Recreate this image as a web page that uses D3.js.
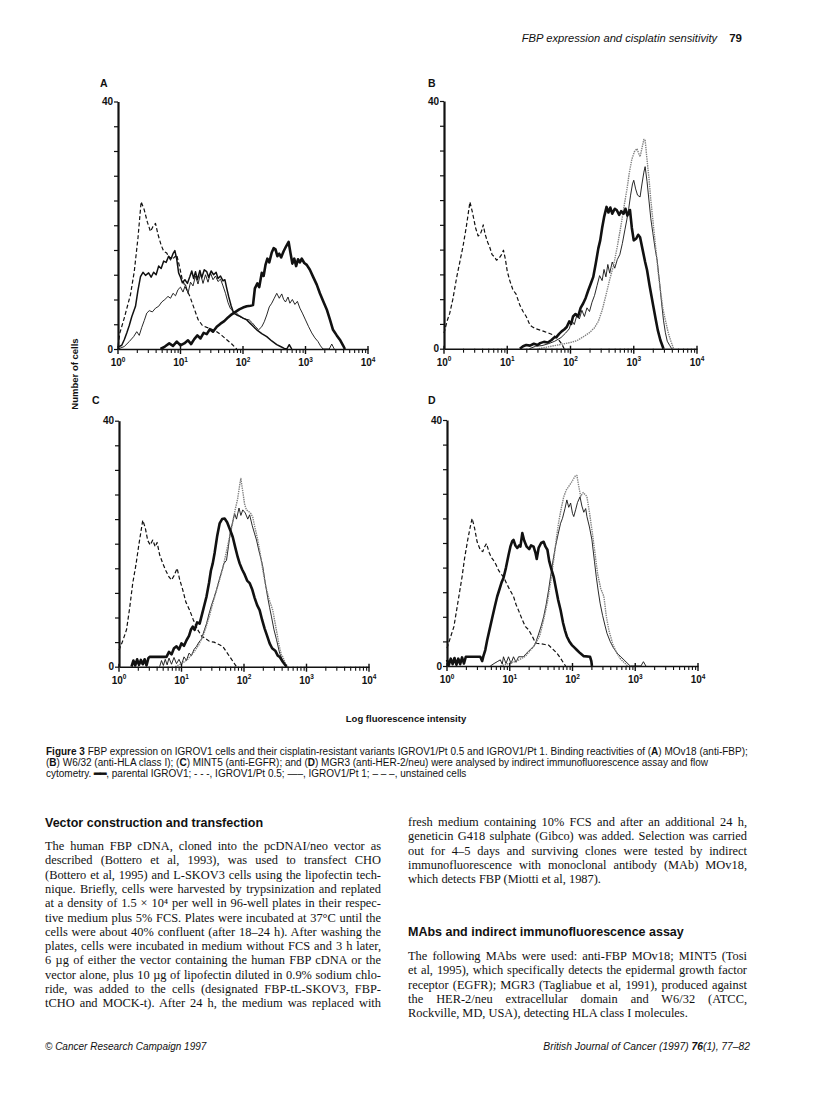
<!DOCTYPE html>
<html>
<head>
<meta charset="utf-8">
<script src="https://cdn.jsdelivr.net/npm/d3@7"></script>
<style>
  body { margin: 0; background: #fff; }
  svg text { font-family: "Liberation Sans", Arial, sans-serif; fill: #111; }
  svg text.serif { font-family: "Liberation Serif", "Times New Roman", serif; }
</style>
</head>
<body>
<svg id="page" width="816" height="1114"></svg>
<script>
// ---- data: histograms, x = log10(fluorescence intensity), y = number of cells ----
const countTicks = d3.range(0, 41, 4);
const decadeTicks = [1, 10, 100, 1000, 10000];
const decadeLabels = ["0", "1", "2", "3", "4"];

// panel A: MOv18 (anti-FBP)
const aUnstained = [[0,0.5],[0.03,2.6],[0.1,5],[0.2,8.8],[0.26,12.5],[0.32,18],[0.37,23.8],[0.42,22.5],[0.47,20.5],[0.52,19],[0.56,19.8],[0.6,20.3],[0.64,18.5],[0.69,16.8],[0.73,15.8],[0.78,15.5],[0.84,14.4],[0.9,14.8],[0.94,15.2],[0.98,13.5],[1.03,11.2],[1.08,10],[1.15,8.5],[1.22,6.5],[1.28,4.8],[1.35,3.8],[1.42,3.5],[1.5,3.2],[1.58,2.8],[1.66,2.2],[1.74,1.5],[1.82,0.8],[1.9,0]];
const aParental = [[0.68,0],[0.75,0.4],[0.82,0.9],[0.88,0.5],[0.94,1.2],[1.0,0.6],[1.06,0.9],[1.12,1.4],[1.17,0.8],[1.22,1.6],[1.27,2.2],[1.32,1.7],[1.37,2.6],[1.42,2.4],[1.47,3.2],[1.52,2.8],[1.58,3.6],[1.64,4.1],[1.7,4.5],[1.76,5.1],[1.82,5.6],[1.88,6.0],[1.94,6.4],[2.0,6.7],[2.06,6.9],[2.12,7.0],[2.16,7.1],[2.19,9.8],[2.23,10.6],[2.26,10.0],[2.3,12.3],[2.33,11.8],[2.36,13.6],[2.39,14.6],[2.42,14.0],[2.46,15.6],[2.49,16.3],[2.52,16.1],[2.55,15.0],[2.58,15.4],[2.61,14.8],[2.65,15.8],[2.69,16.6],[2.73,17.3],[2.76,15.5],[2.79,13.8],[2.82,14.6],[2.85,13.4],[2.88,14.5],[2.91,14.0],[2.94,14.6],[2.98,13.9],[3.02,13.6],[3.07,12.8],[3.12,11.7],[3.18,10.4],[3.23,9.0],[3.28,7.8],[3.34,6.4],[3.39,4.8],[3.44,3.1],[3.5,2.2],[3.55,1.5],[3.6,0.6],[3.63,0]];
const aPt05 = [[0,0.3],[0.06,0.6],[0.1,1.5],[0.14,2.6],[0.18,3.8],[0.22,5.2],[0.28,6.9],[0.32,9.5],[0.36,11.7],[0.4,12.4],[0.44,11.9],[0.49,12.3],[0.53,11.6],[0.57,12.4],[0.61,12.0],[0.65,13.4],[0.69,13.0],[0.73,14.2],[0.77,14.0],[0.81,15.0],[0.85,14.6],[0.88,15.4],[0.91,15.9],[0.94,14.5],[0.97,12.3],[1.0,11.6],[1.03,10.7],[1.07,11.2],[1.11,10.6],[1.15,11.7],[1.18,12.6],[1.21,11.4],[1.24,12.5],[1.27,11.2],[1.31,12.7],[1.34,11.5],[1.38,12.8],[1.42,12.5],[1.45,11.6],[1.49,12.6],[1.53,12.0],[1.57,12.4],[1.6,11.4],[1.64,11.8],[1.68,11.0],[1.71,11.2],[1.74,9.8],[1.77,8.5],[1.81,7.0],[1.85,5.8],[1.9,5.5],[1.95,5.3],[2.0,5.0],[2.06,4.7],[2.12,4.1],[2.17,3.6],[2.22,3.1],[2.3,2.5],[2.38,2.0],[2.46,1.3],[2.54,0.7],[2.6,0.4],[2.66,0.1],[2.7,0],[2.74,0.7],[2.78,0]];
const aPt1 = [[0,0],[0.1,0.4],[0.18,1.2],[0.25,2.0],[0.3,2.8],[0.34,2.2],[0.38,3.5],[0.42,4.6],[0.46,5.8],[0.5,6.2],[0.55,6.0],[0.6,6.6],[0.65,6.9],[0.7,7.6],[0.75,8.0],[0.8,8.5],[0.84,8.2],[0.88,9.0],[0.92,8.6],[0.96,9.6],[1.0,10.0],[1.04,9.2],[1.08,10.4],[1.12,9.0],[1.16,10.8],[1.2,10.2],[1.24,11.8],[1.28,10.5],[1.32,12.2],[1.36,10.6],[1.4,12.0],[1.44,10.8],[1.48,12.3],[1.52,11.2],[1.56,11.8],[1.6,10.9],[1.64,11.3],[1.68,10.2],[1.72,9.0],[1.76,7.5],[1.8,6.5],[1.85,6.0],[1.9,5.8],[1.95,5.2],[2.0,5.0],[2.05,4.8],[2.1,4.7],[2.15,4.2],[2.2,3.6],[2.25,3.1],[2.3,3.6],[2.34,4.4],[2.38,5.5],[2.42,6.8],[2.46,7.4],[2.5,8.2],[2.54,9.0],[2.58,8.2],[2.62,8.9],[2.65,8.0],[2.68,7.6],[2.72,8.4],[2.75,7.4],[2.79,8.0],[2.83,7.2],[2.87,7.7],[2.91,6.6],[2.95,5.8],[3.0,4.7],[3.05,3.6],[3.1,2.6],[3.15,1.8],[3.2,1.2],[3.24,0.5],[3.28,0],[3.38,0],[3.42,0.8],[3.46,0]];

// panel B: W6/32 (anti-HLA class I)
const bUnstained = [[0,2.5],[0.05,4.5],[0.09,5.7],[0.14,8],[0.2,11.5],[0.25,14],[0.3,16.5],[0.35,19.5],[0.41,23.7],[0.45,22.0],[0.5,19.5],[0.54,18.2],[0.57,18.4],[0.6,19.2],[0.62,20],[0.65,18.5],[0.69,17.2],[0.72,16.5],[0.76,15.2],[0.8,14.8],[0.83,14.3],[0.87,14.6],[0.91,15.2],[0.94,15.9],[0.97,14.5],[1.0,12.5],[1.04,11],[1.09,9.5],[1.14,8.8],[1.2,7],[1.25,6],[1.3,5.2],[1.36,3.8],[1.4,3.5],[1.46,3.2],[1.52,3.0],[1.58,2.8],[1.66,2.5],[1.73,2.2],[1.8,1.6],[1.86,0.8],[1.9,0]];
const bParental = [[1.2,0],[1.25,0.4],[1.3,0.6],[1.36,0.5],[1.42,0.8],[1.48,0.6],[1.52,0.9],[1.58,1.1],[1.64,1.0],[1.7,1.4],[1.74,1.8],[1.78,1.9],[1.82,2.4],[1.86,2.8],[1.9,3.1],[1.94,3.5],[1.98,4.4],[2.01,4.0],[2.04,5.2],[2.08,5.6],[2.12,5.2],[2.16,6.6],[2.2,7.3],[2.24,8.2],[2.28,9.4],[2.32,10.5],[2.36,11.6],[2.4,13.8],[2.44,16.2],[2.47,17.5],[2.5,19.5],[2.53,21.2],[2.57,22.9],[2.6,22.0],[2.63,22.8],[2.66,21.8],[2.7,22.6],[2.73,22.4],[2.77,21.6],[2.8,22.2],[2.84,21.8],[2.87,22.6],[2.9,21.5],[2.94,22.4],[2.97,19.5],[3.0,17.5],[3.04,17.8],[3.07,18.4],[3.1,18.0],[3.14,16.0],[3.18,14.0],[3.21,12.7],[3.25,10.2],[3.28,8.5],[3.31,6.8],[3.35,4.6],[3.38,3.0],[3.42,1.4],[3.47,0]];
const bPt05 = [[1.5,0],[1.6,0.2],[1.7,0.4],[1.8,0.6],[1.9,0.8],[2.0,1.0],[2.1,1.3],[2.2,1.9],[2.3,2.6],[2.38,3.4],[2.44,4.4],[2.5,6.2],[2.56,8.6],[2.62,11.2],[2.68,13.4],[2.74,16.5],[2.8,20.0],[2.85,23.2],[2.89,25.6],[2.93,28.4],[2.97,30.6],[3.01,31.8],[3.05,32.3],[3.08,31.5],[3.1,31.0],[3.13,32.4],[3.16,33.8],[3.18,33.7],[3.21,30.5],[3.24,27.6],[3.27,24.0],[3.31,20.0],[3.35,16.0],[3.39,12.0],[3.42,9.6],[3.46,6.5],[3.5,4.6],[3.54,2.8],[3.58,1.4],[3.63,0]];
const bPt1 = [[1.35,0],[1.45,0.4],[1.55,0.5],[1.65,0.8],[1.75,1.2],[1.85,1.8],[1.92,2.5],[1.98,3.2],[2.02,4.6],[2.06,3.9],[2.1,5.4],[2.14,4.8],[2.18,6.2],[2.22,5.2],[2.26,6.6],[2.3,6.0],[2.34,7.5],[2.38,8.6],[2.42,10.2],[2.46,11.8],[2.5,11.0],[2.53,12.8],[2.56,11.6],[2.59,13.6],[2.62,12.2],[2.66,14.0],[2.7,13.0],[2.74,14.4],[2.78,15.2],[2.82,17.0],[2.86,19.2],[2.89,20.8],[2.92,22.6],[2.95,24.8],[2.98,26.6],[3.0,27.2],[3.03,25.8],[3.06,24.8],[3.1,24.5],[3.13,26.6],[3.16,28.5],[3.18,29.4],[3.21,27.0],[3.24,24.0],[3.27,21.0],[3.3,18.8],[3.34,16.0],[3.37,14.3],[3.41,10.5],[3.44,7.4],[3.47,4.6],[3.5,2.6],[3.53,1.2],[3.57,0.5],[3.6,0]];

// panel C: MINT5 (anti-EGFR)
const cUnstained = [[0,2.7],[0.06,4.2],[0.12,6],[0.17,9.5],[0.22,13.6],[0.27,16.5],[0.32,20],[0.38,23.8],[0.42,22.6],[0.46,20.5],[0.5,19.8],[0.54,20.6],[0.58,19.5],[0.61,20.2],[0.65,18.2],[0.7,16.8],[0.75,15.6],[0.8,14.6],[0.84,14.1],[0.88,14.8],[0.93,16.0],[0.97,14.2],[1.02,12.5],[1.07,10.5],[1.13,9.2],[1.19,7.6],[1.26,6.0],[1.32,5.0],[1.38,4.6],[1.45,4.1],[1.52,4.0],[1.6,3.6],[1.66,3.3],[1.72,2.4],[1.78,1.5],[1.84,0.6],[1.88,0]];
const cParental = [[0.2,0],[0.23,1.0],[0.26,0.2],[0.29,1.2],[0.32,0.3],[0.35,1.1],[0.38,0.4],[0.41,1.2],[0.44,0.2],[0.47,1.4],[0.49,1.6],[0.6,1.6],[0.76,1.6],[0.8,2.4],[0.84,2.0],[0.88,3.0],[0.92,3.3],[0.96,2.8],[1.0,3.8],[1.04,3.4],[1.08,4.3],[1.12,5.0],[1.15,6.0],[1.18,6.5],[1.21,6.0],[1.25,7.2],[1.29,7.0],[1.33,8.6],[1.37,10.2],[1.4,11.4],[1.44,13.6],[1.47,15.6],[1.5,16.8],[1.53,18.5],[1.57,21.2],[1.61,23.3],[1.65,24.0],[1.69,24.1],[1.73,23.5],[1.78,22.2],[1.82,21.1],[1.86,19.4],[1.9,17.8],[1.93,16.8],[1.97,15.8],[2.01,15.0],[2.05,14.0],[2.09,13.6],[2.13,12.6],[2.17,11.2],[2.21,10.0],[2.25,9.2],[2.29,7.6],[2.33,6.2],[2.37,5.0],[2.41,3.8],[2.45,3.0],[2.5,2.6],[2.54,1.8],[2.57,1.6],[2.62,0.8],[2.68,0]];
const cPt05 = [[0.9,0],[1.0,0.5],[1.1,1.2],[1.2,2.4],[1.28,3.6],[1.36,5.4],[1.44,8.0],[1.52,11.0],[1.6,13.8],[1.66,16.0],[1.72,18.8],[1.78,21.6],[1.82,23.5],[1.86,25.6],[1.9,27.4],[1.93,29.5],[1.95,30.6],[1.98,28.5],[2.01,26.4],[2.04,25.5],[2.08,25.2],[2.11,24.9],[2.14,24.3],[2.18,22.4],[2.22,20.6],[2.25,19.0],[2.3,15.8],[2.35,13.0],[2.4,11.0],[2.46,9.2],[2.51,6.4],[2.56,3.6],[2.6,1.8],[2.62,1.6],[2.66,0.6],[2.7,0]];
const cPt1 = [[0.65,0],[0.68,1.0],[0.71,0.2],[0.74,1.2],[0.77,0.3],[0.8,1.4],[0.84,0.4],[0.88,1.5],[0.92,0.5],[0.96,1.2],[1.0,0.3],[1.04,1.6],[1.08,1.0],[1.12,2.2],[1.16,1.8],[1.2,2.8],[1.24,3.3],[1.28,4.0],[1.32,4.5],[1.36,5.8],[1.4,7.0],[1.44,8.6],[1.48,10.0],[1.52,11.2],[1.56,12.5],[1.6,14.0],[1.64,15.4],[1.68,16.8],[1.72,17.3],[1.75,19.5],[1.78,21.8],[1.82,23.6],[1.85,24.9],[1.88,24.0],[1.92,25.8],[1.95,24.6],[1.98,25.5],[2.02,25.0],[2.06,24.0],[2.09,24.7],[2.13,23.0],[2.17,21.6],[2.2,20.6],[2.24,18.8],[2.28,17.2],[2.3,16.3],[2.34,13.6],[2.38,11.2],[2.41,9.6],[2.44,8.1],[2.48,6.0],[2.52,4.4],[2.57,2.2],[2.62,1.0],[2.68,0]];

// panel D: MGR3 (anti-HER-2/neu)
const dUnstained = [[0,2.9],[0.05,4.5],[0.11,6.4],[0.16,9.5],[0.2,12],[0.24,14.5],[0.28,17.5],[0.33,20.5],[0.37,22.6],[0.4,24],[0.44,22.4],[0.48,20.2],[0.53,18.9],[0.57,18.6],[0.6,19.4],[0.63,19.9],[0.67,18.5],[0.71,17.6],[0.74,17.2],[0.78,16.5],[0.82,15.6],[0.86,15.0],[0.9,14.5],[0.95,13.4],[1.0,12.4],[1.06,11.3],[1.1,10.0],[1.15,8.8],[1.2,7.5],[1.25,6.4],[1.3,5.9],[1.35,5.0],[1.4,4.0],[1.43,3.7],[1.5,3.6],[1.56,3.5],[1.62,3.4],[1.68,2.8],[1.75,2.1],[1.8,1.4],[1.85,0.6],[1.89,0]];
const dParental = [[0,1.0],[0.03,0.2],[0.06,1.2],[0.09,0.3],[0.12,1.3],[0.15,0.2],[0.18,1.2],[0.21,0.3],[0.24,1.4],[0.27,0.4],[0.3,1.5],[0.35,1.5],[0.45,1.5],[0.53,1.5],[0.56,0.8],[0.58,1.6],[0.61,2.6],[0.64,4.2],[0.68,6.0],[0.72,7.8],[0.76,9.6],[0.8,11.3],[0.84,12.6],[0.87,13.6],[0.9,14.3],[0.94,16.0],[0.98,18.0],[1.01,19.4],[1.04,20.3],[1.06,20.5],[1.09,19.6],[1.12,19.2],[1.15,19.6],[1.17,19.4],[1.2,21.6],[1.23,20.4],[1.27,19.4],[1.31,19.0],[1.34,19.6],[1.38,19.4],[1.41,18.4],[1.43,17.4],[1.46,19.2],[1.5,20.0],[1.54,20.2],[1.57,19.4],[1.6,18.9],[1.63,17.0],[1.67,15.5],[1.7,14.5],[1.74,12.4],[1.77,10.8],[1.81,9.1],[1.85,7.0],[1.88,5.8],[1.91,4.8],[1.95,4.0],[1.99,3.4],[2.02,3.1],[2.07,2.6],[2.12,2.1],[2.18,1.6],[2.28,1.5],[2.3,0.8],[2.31,0]];
const dPt05 = [[0.85,0],[0.95,0.3],[1.05,0.6],[1.15,1.0],[1.25,1.6],[1.35,2.8],[1.42,3.8],[1.48,5.0],[1.54,7.5],[1.6,10.4],[1.65,13.5],[1.7,17.2],[1.74,20.5],[1.78,23.4],[1.82,25.6],[1.86,27.5],[1.9,28.6],[1.94,29.2],[1.98,29.8],[2.02,30.5],[2.05,31.0],[2.07,31.0],[2.1,29.2],[2.13,27.6],[2.17,28.2],[2.21,27.8],[2.23,27.5],[2.27,25.0],[2.31,22.1],[2.35,19.0],[2.4,15.0],[2.45,12.6],[2.5,11.3],[2.54,8.0],[2.58,5.8],[2.64,3.6],[2.7,2.2],[2.76,1.2],[2.82,0.6],[2.88,0]];
const dPt1 = [[0.69,0],[0.75,0.4],[0.8,0.7],[0.85,1.0],[0.88,0.3],[0.9,1.5],[0.94,0.4],[0.98,1.5],[1.02,0.4],[1.06,1.5],[1.1,0.6],[1.14,1.5],[1.22,1.5],[1.26,2.0],[1.3,2.4],[1.34,2.8],[1.38,3.1],[1.42,4.0],[1.46,5.2],[1.5,6.5],[1.54,8.0],[1.58,10.0],[1.62,12.4],[1.65,14.5],[1.69,17.2],[1.73,19.5],[1.77,21.4],[1.81,23.2],[1.84,24.0],[1.88,25.6],[1.91,27.0],[1.94,25.8],[1.97,26.5],[2.0,24.8],[2.02,24.3],[2.05,25.4],[2.08,26.6],[2.12,27.5],[2.15,26.0],[2.18,25.0],[2.21,25.6],[2.23,24.3],[2.27,22.6],[2.31,20.5],[2.35,17.0],[2.38,14.4],[2.41,12.2],[2.44,10.2],[2.48,8.2],[2.52,6.5],[2.55,5.3],[2.6,4.0],[2.65,3.0],[2.71,2.1],[2.76,1.6],[2.82,1.0],[2.87,0.5],[2.92,0],[3.09,0],[3.13,0.7],[3.17,0]];

// ---- page text ----
const captionLines = [
  [["Figure 3", 1], ["  FBP expression on IGROV1 cells and their cisplatin-resistant variants IGROV1/Pt 0.5 and IGROV1/Pt 1. Binding reactivities of (", 0], ["A", 1], [") MOv18 (anti-FBP);", 0]],
  [["(", 0], ["B", 1], [") W6/32 (anti-HLA class I); (", 0], ["C", 1], [") MINT5 (anti-EGFR); and (", 0], ["D", 1], [") MGR3 (anti-HER-2/neu) were analysed by indirect immunofluorescence assay and flow", 0]],
  [["cytometry. ", 0], ["\u2501\u2501", 2], [", parental IGROV1; -  -  -, IGROV1/Pt 0.5; \u2014\u2013, IGROV1/Pt 1; \u2013 \u2013 \u2013, unstained cells", 0]]
];
const leftLines = [
  "The human FBP cDNA, cloned into the pcDNAI/neo vector as",
  "described (Bottero et al, 1993), was used to transfect CHO",
  "(Bottero et al, 1995) and L-SKOV3 cells using the lipofectin tech-",
  "nique. Briefly, cells were harvested by trypsinization and replated",
  "at a density of 1.5 \u00D7 10\u2074 per well in 96-well plates in their respec-",
  "tive medium plus 5% FCS. Plates were incubated at 37\u00B0C until the",
  "cells were about 40% confluent (after 18\u201324 h). After washing the",
  "plates, cells were incubated in medium without FCS and 3 h later,",
  "6 \u00B5g of either the vector containing the human FBP cDNA or the",
  "vector alone, plus 10 \u00B5g of lipofectin diluted in 0.9% sodium chlo-",
  "ride, was added to the cells (designated FBP-tL-SKOV3, FBP-",
  "tCHO and MOCK-t). After 24 h, the medium was replaced with"
];
const rightLines1 = [
  "fresh medium containing 10% FCS and after an additional 24 h,",
  "geneticin G418 sulphate (Gibco) was added. Selection was carried",
  "out for 4\u20135 days and surviving clones were tested by indirect",
  "immunofluorescence with monoclonal antibody (MAb) MOv18,",
  "which detects FBP (Miotti et al, 1987)."
];
const rightLines2 = [
  "The following MAbs were used: anti-FBP MOv18; MINT5 (Tosi",
  "et al, 1995), which specifically detects the epidermal growth factor",
  "receptor (EGFR); MGR3 (Tagliabue et al, 1991), produced against",
  "the HER-2/neu extracellular domain and W6/32 (ATCC,",
  "Rockville, MD, USA), detecting HLA class I molecules."
];

// ---- layout ----
const panels = [
  { id: "A", x0: 118, x1: 368, yTop: 101.5, yBot: 349, lx: 100, ly: 87,
    series: { unstained: aUnstained, pt1: aPt1, pt05: aPt05, parental: aParental }, pt05Solid: true },
  { id: "B", x0: 444, x1: 697, yTop: 101, yBot: 348.7, lx: 428, ly: 87,
    series: { unstained: bUnstained, pt1: bPt1, pt05: bPt05, parental: bParental } },
  { id: "C", x0: 119, x1: 369, yTop: 420.7, yBot: 666.7, lx: 92, ly: 404,
    series: { unstained: cUnstained, pt1: cPt1, pt05: cPt05, parental: cParental } },
  { id: "D", x0: 447, x1: 698, yTop: 420, yBot: 666, lx: 428, ly: 404,
    series: { unstained: dUnstained, pt1: dPt1, pt05: dPt05, parental: dParental } }
];

const lineStyle = {
  pt05: { w: 1.4, c: "#808080", dash: "1.4 0.9" },
  pt1: { w: 0.9, c: "#111", dash: null },
  unstained: { w: 1.2, c: "#111", dash: "4 2.4" },
  parental: { w: 2.6, c: "#111", dash: null }
};

const svg = d3.select("#page");

function drawPanel(p) {
  const x = d3.scaleLog().domain([1, 10000]).range([p.x0, p.x1]);
  const y = d3.scaleLinear().domain([0, 40]).range([p.yBot, p.yTop]);
  const g = svg.append("g");

  // series
  const line = d3.line().x(d => x(10 ** d[0])).y(d => y(d[1]));
  Object.entries(p.series).forEach(([key, data]) => {
    let st = lineStyle[key];
    if (key === "pt05" && p.pt05Solid) st = { w: 1.5, c: "#111", dash: null };
    g.append("path")
      .datum(data)
      .attr("d", line)
      .attr("fill", "none")
      .attr("stroke", st.c)
      .attr("stroke-width", st.w)
      .attr("stroke-linejoin", "round")
      .attr("stroke-dasharray", st.dash);
  });

  // x axis: minor ticks from the log scale, decades drawn taller
  const minor = [];
  for (let e = 0; e < 4; e++) for (let m = 2; m <= 9; m++) minor.push(m * 10 ** e);
  const xa = g.append("g").attr("transform", `translate(0,${p.yBot})`)
    .call(d3.axisBottom(x).tickValues(minor).tickSize(4).tickSizeOuter(0).tickFormat(""));
  xa.select(".domain").attr("stroke", "#111").attr("stroke-width", 1.6);
  xa.selectAll(".tick line").attr("stroke", "#111").attr("stroke-width", 1.1);

  const major = g.selectAll(".major").data(decadeTicks).enter().append("g")
    .attr("transform", d => `translate(${x(d)},${p.yBot})`);
  major.append("line").attr("y1", -3).attr("y2", 5).attr("stroke", "#111").attr("stroke-width", 1.4);
  const lab = major.append("text").attr("y", 17).attr("text-anchor", "middle")
    .style("font-size", "10px").style("font-weight", "bold");
  lab.append("tspan").text("10");
  lab.append("tspan").attr("dy", -4.5).style("font-size", "6.5px").text((d, i) => decadeLabels[i]);

  // y axis
  const ya = g.append("g").attr("transform", `translate(${p.x0},0)`)
    .call(d3.axisLeft(y).tickValues(countTicks).tickSize(4).tickSizeOuter(0)
      .tickFormat(d => (d === 0 || d === 40) ? d : ""));
  ya.select(".domain").attr("stroke", "#111").attr("stroke-width", 2.2);
  ya.selectAll(".tick line").attr("stroke", "#111").attr("stroke-width", 1.2);
  ya.selectAll(".tick text").attr("x", -5).style("font-size", "10px").style("font-weight", "bold")
    .style("font-family", "Liberation Sans, Arial, sans-serif").attr("fill", "#111");

  svg.append("text").attr("x", p.lx).attr("y", p.ly)
    .style("font-size", "10.5px").style("font-weight", "bold").text(p.id);
}

panels.forEach(drawPanel);

// axis titles
svg.append("text").attr("transform", "translate(78,374) rotate(-90)")
  .attr("text-anchor", "middle").style("font-size", "9.5px").style("font-weight", "bold")
  .text("Number of cells");
svg.append("text").attr("x", 406).attr("y", 722).attr("text-anchor", "middle")
  .style("font-size", "9.5px").style("font-weight", "bold").text("Log fluorescence intensity");

// running head
const head = svg.append("text").attr("x", 742).attr("y", 42).attr("text-anchor", "end")
  .style("font-size", "11.2px");
head.append("tspan").style("font-style", "italic").text("FBP expression and cisplatin sensitivity");
head.append("tspan").attr("dx", 12).style("font-weight", "bold").style("font-size", "11.5px").text("79");

// caption
captionLines.forEach((segs, i) => {
  const t = svg.append("text").attr("x", 46).attr("y", 755 + i * 11).style("font-size", "10px");
  segs.forEach(([s, b]) => {
    const ts = t.append("tspan").text(s);
    if (b === 1) ts.style("font-weight", "bold");
    if (b === 2) ts.style("font-family", "DejaVu Sans").style("stroke", "#111").style("stroke-width", 0.7);
  });
});

// body text
function justify(sel, width) {
  sel.each(function () {
    const n = this.getComputedTextLength();
    const spaces = (this.textContent.match(/ /g) || []).length;
    if (spaces) d3.select(this).attr("word-spacing", (width - n) / spaces);
  });
}
function column(lines, x, y0, width, lastFull) {
  const sel = svg.selectAll(null).data(lines).enter().append("text")
    .attr("class", "serif").attr("x", x).attr("y", (d, i) => y0 + i * 14.3)
    .style("font-size", "12.4px").text(d => d);
  justify(lastFull ? sel : sel.filter((d, i) => i < lines.length - 1), width);
}
const leftX = 45, leftW = 336, rightX = 408, rightW = 339;
svg.append("text").attr("x", leftX).attr("y", 826.5).style("font-size", "12.5px").style("font-weight", "bold")
  .text("Vector construction and transfection");
column(leftLines, leftX, 850, leftW, true);
column(rightLines1, rightX, 826, rightW, false);
svg.append("text").attr("x", rightX).attr("y", 936).style("font-size", "12.5px").style("font-weight", "bold")
  .text("MAbs and indirect immunofluorescence assay");
column(rightLines2, rightX, 960, rightW, false);

// footer
svg.append("text").attr("x", 45).attr("y", 1050).style("font-size", "10px").style("font-style", "italic")
  .text("\u00A9 Cancer Research Campaign 1997");
const foot = svg.append("text").attr("x", 750).attr("y", 1050).attr("text-anchor", "end")
  .style("font-size", "10.3px").style("font-style", "italic");
foot.append("tspan").text("British Journal of Cancer (1997) ");
foot.append("tspan").style("font-weight", "bold").text("76");
foot.append("tspan").text("(1), 77\u201382");
</script>
</body>
</html>
